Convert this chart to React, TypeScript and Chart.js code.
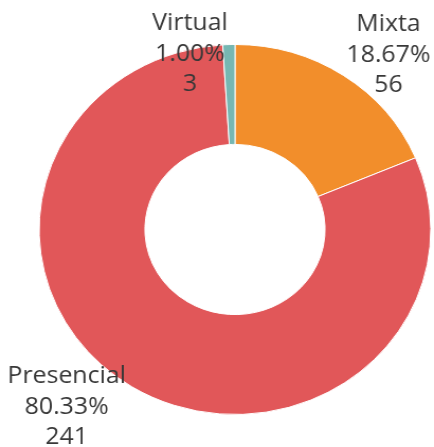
import React, { useEffect, useRef } from "react";
import { Chart, registerables } from "chart.js";

Chart.register(...registerables);

const categories = ["Mixta", "Presencial", "Virtual"];
const counts = [56, 241, 3];
const percents = ["18.67%", "80.33%", "1.00%"];
const colors = ["#F28E2B", "#E15759", "#76B7B2"];

// label anchors (unscaled canvas coords): center x, first baseline y
const labelAnchors = [
  { x: 367, y: 31 },
  { x: 63, y: 383 },
  { x: 179.5, y: 30 },
];

const SCALE_X = 1.0585;
const CW = 410;
const CH = 447;

const labelPlugin = {
  id: "sliceLabels",
  afterDraw(chart: any) {
    const ctx = chart.ctx;
    ctx.save();
    ctx.font = '23.5px "Open Sans"';
    ctx.fillStyle = "#383838";
    ctx.textAlign = "center";
    ctx.textBaseline = "alphabetic";
    const lh = 30.5;
    categories.forEach((c, i) => {
      const a = labelAnchors[i];
      const lines = [c, percents[i], String(counts[i])];
      lines.forEach((t, j) => ctx.fillText(t, a.x, a.y + j * lh));
    });
    ctx.restore();
  },
};

export default function App() {
  const ref = useRef<HTMLCanvasElement>(null);
  useEffect(() => {
    if (!ref.current) return;
    const chart = new Chart(ref.current, {
      type: "doughnut",
      data: {
        labels: categories,
        datasets: [
          {
            data: counts,
            backgroundColor: colors,
            borderColor: "#ffffff",
            borderWidth: 1,
          },
        ],
      },
      options: {
        responsive: false,
        animation: false,
        cutout: "46%",
        layout: { padding: { left: 36, right: 2, top: 44, bottom: 32 } },
        plugins: {
          legend: { display: false },
          tooltip: { enabled: false },
        },
      },
      plugins: [labelPlugin],
    });
    return () => chart.destroy();
  }, []);
  return (
    <div
      style={{
        position: "fixed",
        left: 0,
        top: 0,
        width: 434,
        height: 447,
        background: "#fff",
        overflow: "hidden",
      }}
    >
      <canvas
        ref={ref}
        width={CW}
        height={CH}
        style={{
          width: CW,
          height: CH,
          transform: `scaleX(${SCALE_X})`,
          transformOrigin: "0 0",
          display: "block",
        }}
      />
    </div>
  );
}
